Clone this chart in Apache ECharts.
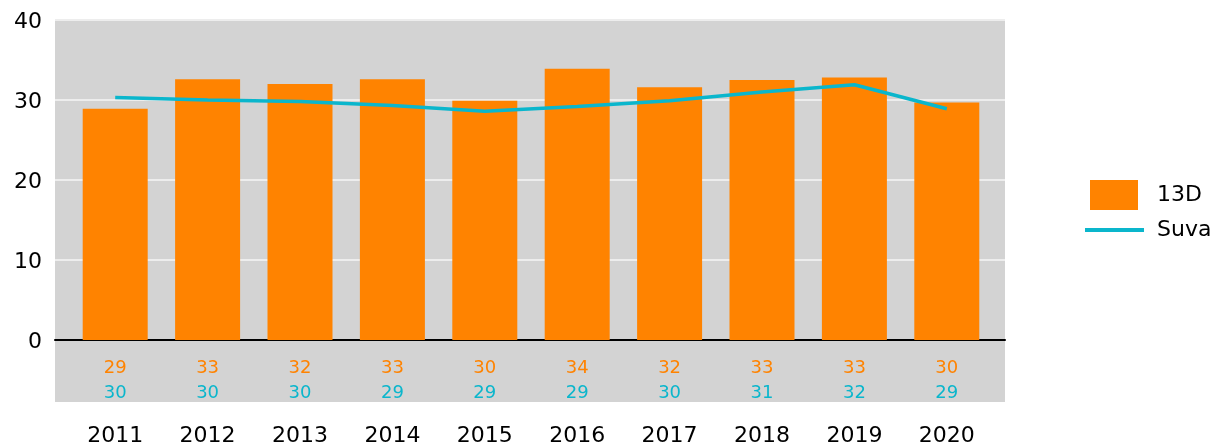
<!DOCTYPE html>
<html lang="en">
<head>
    <meta charset="UTF-8">
    <title>13D vs Suva</title>
    <script src="https://cdn.jsdelivr.net/npm/echarts@6/dist/echarts.min.js"></script>
    <style type="text/css">
        html, body { height: 100%; margin: 0; background: #fff; }
        #main { width: 1220px; height: 445px; }
    </style>
</head>
<body>
    <div id="main"></div>
    <script type="text/javascript">
        // data
        var years = ['2011', '2012', '2013', '2014', '2015', '2016', '2017', '2018', '2019', '2020'];
        var values13D = [28.9, 32.6, 32.0, 32.6, 29.9, 33.9, 31.6, 32.5, 32.8, 29.7];
        var valuesSuva = [30.3, 30.0, 29.8, 29.3, 28.6, 29.2, 29.9, 31.0, 31.9, 28.9];
        var yTicks = [0, 10, 20, 30, 40];

        var orange = '#ff8300';
        var cyan = '#0ab6cc';
        var font = 'DejaVu Sans';

        var chart = echarts.init(document.getElementById('main'));
        var option = {
            animation: false,
            textStyle: { fontFamily: font },
            // grey block under the data table
            graphic: [{
                type: 'rect',
                z: -1,
                shape: { x: 55, y: 341, width: 950, height: 61 },
                style: { fill: '#d3d3d3' }
            }],
            legend: [{
                data: ['13D'],
                icon: 'rect',
                left: 1085, top: 175,
                itemWidth: 48, itemHeight: 30,
                textStyle: { fontSize: 22, color: '#000', fontFamily: font, padding: [0, 0, 0, 14] }
            }, {
                data: ['Suva'],
                icon: 'rect',
                left: 1080, top: 214,
                itemWidth: 59, itemHeight: 4,
                textStyle: { fontSize: 22, color: '#000', fontFamily: font, padding: [0, 0, 0, 8] }
            }],
            grid: [
                { left: 55, right: 215, top: 20, bottom: 105, outerBoundsMode: 'none',
                  show: true, backgroundColor: '#d3d3d3', borderWidth: 0 },
                { left: 69, right: 227, top: 20, bottom: 105, outerBoundsMode: 'none' }
            ],
            xAxis: [{
                gridIndex: 0, type: 'category', data: years,
                axisLine: { show: true, lineStyle: { color: '#000', width: 2 } },
                axisTick: { show: false }, axisLabel: { show: false }
            }, {
                gridIndex: 1, type: 'category', data: years,
                axisLine: { show: false }, axisTick: { show: false },
                axisLabel: {
                    margin: 14,
                    formatter: function (v, i) {
                        return '{a|' + Math.round(values13D[i]) + '}\n{b|' + Math.round(valuesSuva[i]) + '}\n{y|' + v + '}';
                    },
                    rich: {
                        a: { color: orange, fontSize: 18, lineHeight: 28, fontFamily: font },
                        b: { color: cyan, fontSize: 18, lineHeight: 23, fontFamily: font },
                        y: { color: '#000', fontSize: 22, lineHeight: 62, fontFamily: font }
                    }
                }
            }],
            yAxis: [{
                gridIndex: 0, type: 'value', min: yTicks[0], max: yTicks[yTicks.length - 1], interval: 10,
                axisLine: { show: false }, axisTick: { show: false },
                axisLabel: {
                    margin: 13,
                    formatter: '{v|{value}}',
                    rich: { v: { fontSize: 22, color: '#000', fontFamily: font, padding: [5, 0, 0, 0] } }
                },
                splitLine: { show: true, lineStyle: { color: '#ededed', width: 2 } }
            }, {
                gridIndex: 1, type: 'value', min: 0, max: 40, show: false,
                splitLine: { show: false }
            }],
            series: [{
                name: '13D', type: 'bar', xAxisIndex: 1, yAxisIndex: 1,
                data: values13D, barWidth: 65,
                itemStyle: { color: orange }
            }, {
                name: 'Suva', type: 'line', xAxisIndex: 1, yAxisIndex: 1,
                data: valuesSuva, symbol: 'none',
                lineStyle: { color: cyan, width: 3.5 },
                itemStyle: { color: cyan }
            }]
        };
        chart.setOption(option);
    </script>
</body>
</html>
